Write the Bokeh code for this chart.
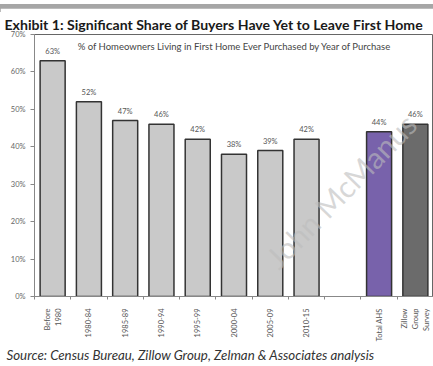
from bokeh.plotting import figure
from bokeh.layouts import column
from bokeh.models import (Label, FixedTicker, Range1d, ColumnDataSource,
                          PrintfTickFormatter, Title, Div)
from bokeh.embed import file_html
from bokeh.resources import INLINE
from bokeh.core.properties import value
import math

categories = ["Before\n1980", "1980-84", "1985-89", "1990-94", "1995-99",
              "2000-04", "2005-09", "2010-15", "Total AHS", "Zillow\nGroup\nSurvey"]
values = [63, 52, 47, 46, 42, 38, 39, 42, 44, 46]
colors = ["#c9c9c9"] * 8 + ["#7862ab", "#6b6b6b"]
y_ticks = [0, 10, 20, 30, 40, 50, 60, 70]

# slot positions: 8 period bars, one empty slot, then the two summary bars
xs = [i + 0.5 if i < 8 else i + 1.5 for i in range(len(categories))]
labels = [f"{v}%" for v in values]

src = ColumnDataSource(dict(x=xs, top=values, color=colors, label=labels))

FONT = "Lato"


def band(h, color):
    html = f'<div style="background-color:{color};width:433px;height:{h}px;margin:0;padding:0"></div>'
    return Div(text=html, width=433, height=h, margin=0)


p = figure(width=433, height=354, output_backend="svg", toolbar_location=None,
           x_range=Range1d(0, 11), y_range=Range1d(0, 70),
           min_border_left=34, min_border_right=0, min_border_top=26, min_border_bottom=66)
p.background_fill_color = "white"
p.border_fill_color = "white"
p.grid.visible = False
p.outline_line_color = "#666666"
p.outline_line_width = 1

p.vbar(x="x", top="top", width=0.69, bottom=0, source=src, fill_color="color",
       line_color="#333333", line_width=1.5)
p.text(x="x", y="top", text="label", source=src, text_align="center",
       text_baseline="bottom", y_offset=-5, text_font_size="7.5px",
       text_color="#555555", text_font=value(FONT))

# y axis
p.yaxis.ticker = FixedTicker(ticks=y_ticks)
p.yaxis.formatter = PrintfTickFormatter(format="%d%%")
p.yaxis.major_label_text_font_size = "7.5px"
p.yaxis.major_label_text_color = "#666666"
p.yaxis.major_label_text_font = FONT
p.yaxis.axis_line_color = "#888888"
p.yaxis.major_tick_line_color = "#888888"
p.yaxis.major_tick_out = 4
p.yaxis.major_tick_in = 0
p.yaxis.minor_tick_line_color = None

# x axis
p.xaxis.ticker = FixedTicker(ticks=xs, minor_ticks=list(range(0, 12)))
p.xaxis.major_label_overrides = {x: c for x, c in zip(xs, categories)}
p.xaxis.major_label_orientation = math.pi / 2
p.xaxis.major_label_text_font_size = "7.5px"
p.xaxis.major_label_text_color = "#555555"
p.xaxis.major_label_text_font = FONT
p.xaxis.major_tick_line_color = None
p.xaxis.minor_tick_line_color = "#888888"
p.xaxis.minor_tick_out = 3
p.xaxis.minor_tick_in = 0
p.xaxis.axis_line_color = "#888888"
p.xaxis.major_label_standoff = 6

# subtitle inside plot
p.add_layout(Label(x=1.19, y=66.8, text="% of Homeowners Living in First Home Ever Purchased by Year of Purchase",
                   text_font=FONT, text_font_size="9.5px", text_color="#444444",
                   text_baseline="middle"))

# watermark
p.add_layout(Label(x=8.44, y=28.3, text="John McManus", angle=0.80,
                   text_align="center", text_baseline="middle", text_font=FONT,
                   text_font_size="30px", text_color="#bdbdbd", text_alpha=0.6))

# title & source
p.add_layout(Title(text="Exhibit 1: Significant Share of Buyers Have Yet to Leave First Home",
                   text_font=FONT, text_font_style="bold", text_font_size="14.1px",
                   text_color="#1a1a1a", align="left", offset=-30, standoff=4), "above")
p.add_layout(Title(text="Source: Census Bureau, Zillow Group, Zelman & Associates analysis",
                   text_font=FONT, text_font_style="italic", text_font_size="13.3px",
                   text_color="#333333", align="left", offset=-28, standoff=0), "below")

layout = column(band(8, "#a6a6a6"), p, band(2, "#a0a0a0"), spacing=0)

open("out.html", "w").write(file_html(layout, INLINE))
